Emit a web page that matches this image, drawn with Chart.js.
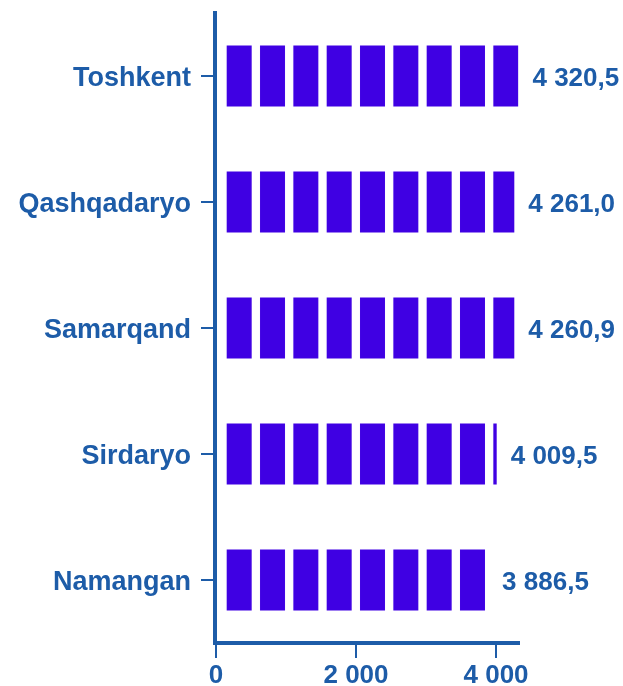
<!DOCTYPE html>
<html>
<head>
<meta charset="utf-8">
<script src="https://cdn.jsdelivr.net/npm/chart.js@4.4.1/dist/chart.umd.min.js"></script>
<style>
  html, body { margin: 0; padding: 0; background: #fff; }
  #wrap { width: 623px; height: 686px; }
</style>
</head>
<body>
<div id="wrap"><canvas id="chart" width="623" height="686"></canvas></div>
<script>
const regions = ['Toshkent', 'Qashqadaryo', 'Samarqand', 'Sirdaryo', 'Namangan'];
const values = [4320.5, 4261.0, 4260.9, 4009.5, 3886.5];
const xTicks = [0, 2000, 4000];

const blue = '#1d5ca8';
const barColor = '#3f00e3';

function fmt(v, digits) {
  const s = v.toFixed(digits).split('.');
  const int = s[0].replace(/\B(?=(\d{3})+(?!\d))/g, ' ');
  return s.length > 1 ? int + ',' + s[1] : int;
}

// blocky bar fill: 25px blocks every 33.3px, starting ~11px after zero
function blocks(ctx) {
  const chart = ctx.chart;
  const x = chart.scales.x;
  if (!x) return barColor;
  const c = document.createElement('canvas');
  c.width = 400; c.height = 1;
  const g = c.getContext('2d');
  g.fillStyle = barColor;
  for (let k = 0; k < 12; k++) g.fillRect(10.7 + k * 33.33, 0, 25, 1);
  const p = chart.ctx.createPattern(c, 'repeat-y');
  p.setTransform(new DOMMatrix().translate(x.getPixelForValue(0), 0));
  return p;
}

const valueLabels = {
  id: 'valueLabels',
  afterDatasetsDraw(chart) {
    const ctx = chart.ctx;
    const meta = chart.getDatasetMeta(0);
    ctx.save();
    ctx.font = 'bold 26px "Liberation Sans", Arial, sans-serif';
    ctx.fillStyle = blue;
    ctx.textAlign = 'left';
    ctx.textBaseline = 'middle';
    meta.data.forEach((bar, i) => {
      ctx.fillText(fmt(values[i], 1), bar.x + 14, bar.y + 3);
    });
    ctx.restore();
  }
};

new Chart(document.getElementById('chart'), {
  type: 'bar',
  data: {
    labels: regions,
    datasets: [{
      data: values,
      backgroundColor: blocks,
      borderWidth: 0,
      barPercentage: 1,
      categoryPercentage: 0.484
    }]
  },
  options: {
    indexAxis: 'y',
    responsive: false,
    animation: false,
    layout: { padding: { left: 0, top: 13, right: 104, bottom: 0 } },
    plugins: { legend: { display: false }, tooltip: { enabled: false } },
    scales: {
      x: {
        min: -14,
        max: 4328,
        z: 1,
        afterBuildTicks: s => { s.ticks = xTicks.map(v => ({ value: v })); },
        afterFit: s => { s.height = 43; s.paddingLeft = 0; s.paddingRight = 0; },
        border: { color: blue, width: 4 },
        grid: { drawOnChartArea: false, color: blue, tickLength: 15, lineWidth: 2 },
        ticks: {
          color: blue,
          padding: 2,
          maxRotation: 0,
          font: { family: '"Liberation Sans", Arial, sans-serif', size: 26, weight: 'bold' },
          callback: v => fmt(v, 0)
        }
      },
      y: {
        z: 1,
        afterFit: s => { s.width = 215; s.paddingTop = 0; s.paddingBottom = 0; },
        border: { color: blue, width: 4 },
        grid: { drawOnChartArea: false, offset: false, color: blue, tickLength: 14, lineWidth: 2 },
        ticks: {
          color: blue,
          padding: 10,
          labelOffset: 3,
          font: { family: '"Liberation Sans", Arial, sans-serif', size: 27, weight: 'bold' }
        }
      }
    }
  },
  plugins: [valueLabels]
});
</script>
</body>
</html>
